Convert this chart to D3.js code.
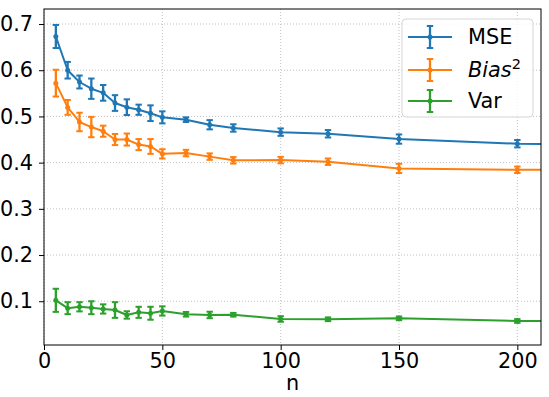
<!DOCTYPE html>
<html><head><meta charset="utf-8">
<script src="https://cdn.jsdelivr.net/npm/d3@7"></script>
<style>body{margin:0;background:#fff}svg{display:block}text{font-family:"DejaVu Sans",sans-serif}</style>
</head><body><svg id="c" width="549" height="397"></svg>
<script>
const nValues = [5,10,15,20,25,30,35,40,45,50,60,70,80,100,120,150,200,250];
const mseValues = [0.673,0.600,0.5745,0.560,0.551,0.529,0.520,0.5145,0.507,0.498,0.493,0.482,0.475,0.466,0.4625,0.451,0.441,0.438];
const mseErr    = [0.025,0.018,0.014,0.022,0.017,0.017,0.017,0.011,0.017,0.013,0.005,0.010,0.008,0.008,0.008,0.010,0.008,0.008];
const biasValues = [0.572,0.5195,0.488,0.477,0.468,0.450,0.450,0.439,0.435,0.419,0.4207,0.413,0.405,0.4055,0.402,0.3875,0.3845,0.384];
const biasErr    = [0.029,0.016,0.020,0.022,0.012,0.012,0.013,0.012,0.016,0.010,0.007,0.007,0.007,0.007,0.007,0.010,0.007,0.007];
const varValues = [0.102,0.085,0.088,0.086,0.0833,0.081,0.0703,0.076,0.074,0.079,0.0718,0.0703,0.0708,0.0616,0.061,0.063,0.0573,0.057];
const varErr    = [0.025,0.013,0.010,0.014,0.010,0.017,0.008,0.012,0.014,0.010,0.005,0.007,0.004,0.006,0.004,0.004,0.004,0.004];
const xTicks = [0,50,100,150,200];
const yTicks = [0.1,0.2,0.3,0.4,0.5,0.6,0.7];
const seriesNames = ["MSE","Bias","Var"];
const seriesColors = ["#1f77b4","#ff7f0e","#2ca02c"];

const FS = 20.8;
const svg = d3.select("#c");
const L=44, R=541, T=9, B=345;
const x = d3.scaleLinear().domain([0,210]).range([L,R]);
const y = d3.scaleLinear().domain([0.0053,0.7325]).range([B,T]);

// grid
const g = svg.append("g");
g.selectAll(".gx").data(xTicks).join("line")
  .attr("x1",d=>x(d)).attr("x2",d=>x(d)).attr("y1",T).attr("y2",B)
  .attr("stroke","#b0b0b0").attr("stroke-width",0.8).attr("stroke-dasharray","1,2");
g.selectAll(".gy").data(yTicks).join("line")
  .attr("y1",d=>y(d)).attr("y2",d=>y(d)).attr("x1",L).attr("x2",R)
  .attr("stroke","#b0b0b0").attr("stroke-width",0.8).attr("stroke-dasharray","1,2");

svg.append("defs").append("clipPath").attr("id","clip")
  .append("rect").attr("x",L).attr("y",T).attr("width",R-L).attr("height",B-T);

const series = [
  {vals:mseValues, err:mseErr},
  {vals:biasValues, err:biasErr},
  {vals:varValues, err:varErr}
];
const plot = svg.append("g").attr("clip-path","url(#clip)");
const line = d3.line().x((d,i)=>x(nValues[i])).y(d=>y(d));
series.forEach((s,si)=>{
  const col = seriesColors[si];
  const sg = plot.append("g");
  sg.append("path").datum(s.vals).attr("d",line).attr("fill","none")
    .attr("stroke",col).attr("stroke-width",2).attr("stroke-linejoin","round");
  const pts = s.vals.map((v,i)=>({n:nValues[i],v:v,e:s.err[i]}));
  sg.selectAll(".eb").data(pts).join("line")
    .attr("x1",d=>x(d.n)).attr("x2",d=>x(d.n))
    .attr("y1",d=>y(d.v-d.e)).attr("y2",d=>y(d.v+d.e))
    .attr("stroke",col).attr("stroke-width",2.3);
  ["lo","hi"].forEach(k=>{
    sg.selectAll(".cap"+k).data(pts).join("line")
      .attr("x1",d=>x(d.n)-3.2).attr("x2",d=>x(d.n)+3.2)
      .attr("y1",d=>y(k==="lo"?d.v-d.e:d.v+d.e)).attr("y2",d=>y(k==="lo"?d.v-d.e:d.v+d.e))
      .attr("stroke",col).attr("stroke-width",2);
  });
  sg.selectAll(".pt").data(pts).join("circle")
    .attr("cx",d=>x(d.n)).attr("cy",d=>y(d.v)).attr("r",2.5).attr("fill",col);
});

// spines
svg.append("rect").attr("x",L).attr("y",T).attr("width",R-L).attr("height",B-T)
  .attr("fill","none").attr("stroke","#000").attr("stroke-width",1);

// axes
const xa = svg.append("g").attr("transform",`translate(0,${B})`)
  .call(d3.axisBottom(x).tickValues(xTicks).tickSize(5).tickPadding(3).tickFormat(d3.format("d")));
const ya = svg.append("g").attr("transform",`translate(${L},0)`)
  .call(d3.axisLeft(y).tickValues(yTicks).tickSize(5).tickPadding(6).tickFormat(d3.format(".1f")));
[xa,ya].forEach(a=>{
  a.select(".domain").remove();
  a.selectAll("text").attr("font-size",FS).attr("fill","#000").style("font-family","DejaVu Sans");
  a.selectAll("line").attr("stroke","#000");
});
svg.append("text").attr("x",(L+R)/2).attr("y",390).attr("text-anchor","middle")
  .attr("font-size",FS).text("n");

// legend
const lg = svg.append("g");
lg.append("rect").attr("x",402).attr("y",19).attr("width",131).attr("height",98).attr("rx",4)
  .attr("fill","#fff").attr("fill-opacity",0.8).attr("stroke","#d6d6d6").attr("stroke-width",1);
const ly = [37,70,101];
seriesNames.forEach((nm,i)=>{
  const col = seriesColors[i];
  const cx = 430;
  lg.append("line").attr("x1",408).attr("x2",452).attr("y1",ly[i]).attr("y2",ly[i]).attr("stroke",col).attr("stroke-width",2);
  lg.append("line").attr("x1",cx).attr("x2",cx).attr("y1",ly[i]-11).attr("y2",ly[i]+11).attr("stroke",col).attr("stroke-width",2.3);
  lg.append("line").attr("x1",cx-3.2).attr("x2",cx+3.2).attr("y1",ly[i]-11).attr("y2",ly[i]-11).attr("stroke",col).attr("stroke-width",2);
  lg.append("line").attr("x1",cx-3.2).attr("x2",cx+3.2).attr("y1",ly[i]+11).attr("y2",ly[i]+11).attr("stroke",col).attr("stroke-width",2);
  lg.append("circle").attr("cx",cx).attr("cy",ly[i]).attr("r",2.5).attr("fill",col);
  const t = lg.append("text").attr("x",468).attr("y",ly[i]+7).attr("font-size",FS).attr("fill","#000");
  if(nm==="Bias"){
    t.append("tspan").attr("font-style","italic").text("Bias");
    t.append("tspan").attr("font-size",FS*0.7).attr("dy",-8).text("2");
  } else t.text(nm);
});
</script></body></html>
